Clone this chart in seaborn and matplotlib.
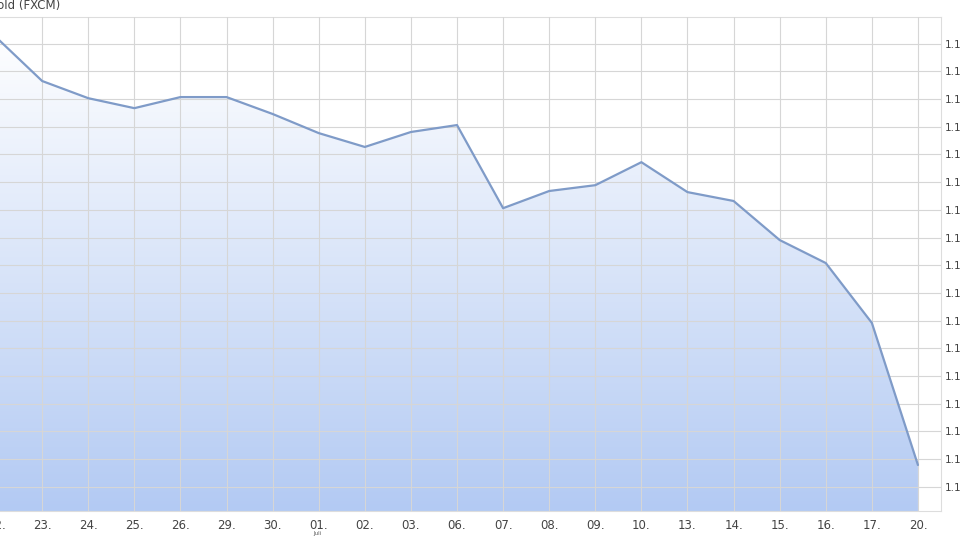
"""
plot.py
Area chart of a FXCM quote, daily closes
"""
import numpy as np
import matplotlib
matplotlib.use('Agg')
import matplotlib.pyplot as plt
from matplotlib.colors import LinearSegmentedColormap
import seaborn as sns

# DATA =================================

days = ['22.', '23.', '24.', '25.', '26.', '29.', '30.', '01.', '02.', '03.', '06.',
        '07.', '08.', '09.', '10.', '13.', '14.', '15.', '16.', '17.', '20.']
close = [1.11623, 1.11465, 1.11403, 1.11367, 1.11407, 1.11407, 1.11346, 1.11277,
         1.11227, 1.11281, 1.11306, 1.11006, 1.11068, 1.11089, 1.11172, 1.11064,
         1.11032, 1.10891, 1.10808, 1.10592, 1.10079]
y_ticks = [1.1000 + 0.001 * i for i in range(17)]
y_labels = [f'{v:.1f}' for v in y_ticks]

# PLOT =================================

sns.set_style('white')
fig = plt.figure(figsize=(9.6, 5.42), dpi=100)
ax = fig.add_axes([-0.0281, 0.0572, 1.0083, 0.9114])

x = np.arange(len(days))
ymin, ymax = 1.09913, 1.11696
ax.set_xlim(-0.5, 20.5)
ax.set_ylim(ymin, ymax)

# gradient fill under the line
poly = ax.fill_between(x, close, ymin, color='none', lw=0)
cmap = LinearSegmentedColormap.from_list('fill', ['#b3caf3', '#ffffff'])
grad = np.linspace(0, 1, 256).reshape(-1, 1)
img = ax.imshow(grad, cmap=cmap, aspect='auto', origin='lower',
                extent=[-0.5, 20.5, ymin, 1.1165], zorder=1)
img.set_clip_path(poly.get_paths()[0], transform=ax.transData)

sns.lineplot(x=x, y=close, ax=ax, color='#7f9bc8', lw=1.6, zorder=3)

ax.set_xticks(x)
ax.set_xticklabels(days)
ax.set_yticks(y_ticks)
ax.set_yticklabels(y_labels)
ax.grid(True, color='#d6d6d6', lw=0.8, zorder=2)
ax.set_axisbelow(False)
for line in ax.get_xgridlines() + ax.get_ygridlines():
    line.set_zorder(2)

ax.yaxis.tick_right()
ax.tick_params(axis='y', length=0, pad=3, labelsize=7.5, labelcolor='#444444')
ax.tick_params(axis='x', length=0, pad=6, labelsize=8.5, labelcolor='#444444')
for side in ax.spines.values():
    side.set_color('#dddddd')
    side.set_linewidth(0.8)

ax.set_xlabel('')
ax.set_ylabel('')
fig.text(0.331, 0.012, 'Juli', fontsize=4, color='#555555', ha='center')
fig.text(-0.012, 0.977, 'Gold (FXCM)', fontsize=8.5, color='#444444',
         ha='left', va='bottom')

fig.savefig('out.png', dpi=100)
